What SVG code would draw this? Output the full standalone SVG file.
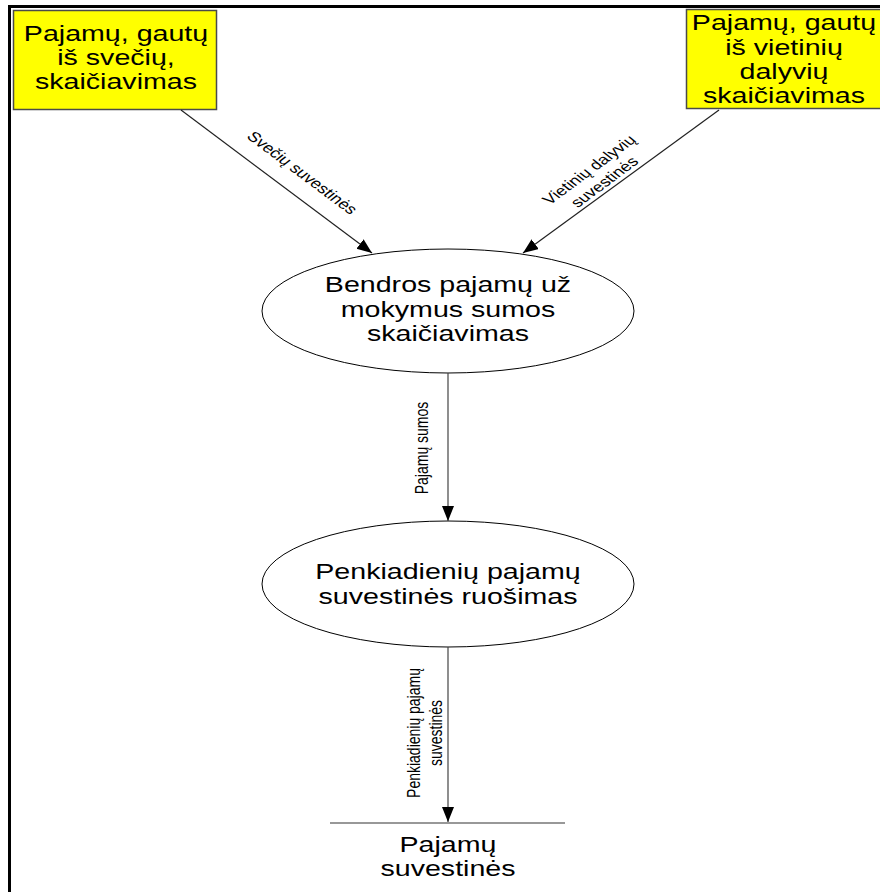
<svg xmlns="http://www.w3.org/2000/svg" width="880" height="892" viewBox="0 0 880 892">
  <style>
    .frame { stroke: #000; stroke-width: 3; fill: none; }
    .ext { fill: #ffff00; stroke: #4a4a4a; stroke-width: 1.5; }
    .proc { fill: #fff; stroke: #000; stroke-width: 1; }
    .store { stroke: #333; stroke-width: 1.2; fill: none; }
    .flow { stroke: #222; stroke-width: 1.2; fill: none; marker-end: url(#arrow); }
    .vflow { stroke: #444; }
    .big { font-family: "Liberation Sans", Arial, sans-serif; font-size: 22px; fill: #000; text-anchor: middle; }
    .small { font-family: "Liberation Sans", Arial, sans-serif; font-size: 14px; fill: #000; text-anchor: middle; }
  </style>
  <defs>
    <marker id="arrow" markerUnits="userSpaceOnUse" markerWidth="16" markerHeight="13" refX="15" refY="6" orient="auto">
      <path d="M0,0 L15,6 L0,12 Z" fill="#000"/>
    </marker>
  </defs>

  <rect width="880" height="892" fill="#fff"/>

  <!-- page frame -->
  <path class="frame" d="M8,6.5 H880 M9.5,6.5 V892"/>

  <!-- external entity: guests -->
  <g id="ext-guests">
    <rect class="ext" x="13.5" y="10.5" width="203" height="99"/>
    <text class="big" transform="translate(116 41) scale(1.3 1)">Pajamų, gautų</text>
    <text class="big" transform="translate(116 65) scale(1.3 1)">iš svečių,</text>
    <text class="big" transform="translate(116 89) scale(1.3 1)">skaičiavimas</text>
  </g>

  <!-- external entity: local participants -->
  <g id="ext-local">
    <rect class="ext" x="686.5" y="9.5" width="210" height="99"/>
    <text class="big" transform="translate(784 30) scale(1.3 1)">Pajamų, gautų</text>
    <text class="big" transform="translate(784 55) scale(1.3 1)">iš vietinių</text>
    <text class="big" transform="translate(784 79) scale(1.3 1)">dalyvių</text>
    <text class="big" transform="translate(784 103) scale(1.3 1)">skaičiavimas</text>
  </g>

  <!-- process: total income -->
  <g id="proc-total">
    <ellipse class="proc" cx="448" cy="311" rx="186" ry="62"/>
    <text class="big" transform="translate(448 292) scale(1.3 1)">Bendros pajamų už</text>
    <text class="big" transform="translate(448 317) scale(1.3 1)">mokymus sumos</text>
    <text class="big" transform="translate(448 341) scale(1.3 1)">skaičiavimas</text>
  </g>

  <!-- process: five-day summary -->
  <g id="proc-summary">
    <ellipse class="proc" cx="448" cy="584" rx="186" ry="63"/>
    <text class="big" transform="translate(448 579) scale(1.3 1)">Penkiadienių pajamų</text>
    <text class="big" transform="translate(448 604) scale(1.3 1)">suvestinės ruošimas</text>
  </g>

  <!-- data store -->
  <g id="store-summaries">
    <path class="store" d="M330,823 H565"/>
    <text class="big" transform="translate(448 852) scale(1.3 1)">Pajamų</text>
    <text class="big" transform="translate(448 876) scale(1.3 1)">suvestinės</text>
  </g>

  <!-- data flows -->
  <g id="flows">
    <path class="flow" d="M181,110 L372,253"/>
    <path class="flow" d="M719,110 L523,253"/>
    <path class="flow vflow" d="M448,373 V521"/>
    <path class="flow vflow" d="M448,647 V822"/>

    <text class="small" transform="translate(302 173) scale(1.3 1) rotate(44.1)" y="4.5">Svečių suvestinės</text>
    <g transform="translate(597 176) scale(1.3 1) rotate(-43.9)">
      <text class="small" y="-4">Vietinių dalyvių</text>
      <text class="small" y="13">suvestinės</text>
    </g>
    <text class="small" transform="translate(428 448) scale(1.3 1) rotate(-90)">Pajamų sumos</text>
    <g transform="translate(431 733) scale(1.3 1) rotate(-90)">
      <text class="small" y="-8.5">Penkiadienių pajamų</text>
      <text class="small" y="8.5">suvestinės</text>
    </g>
  </g>
</svg>
